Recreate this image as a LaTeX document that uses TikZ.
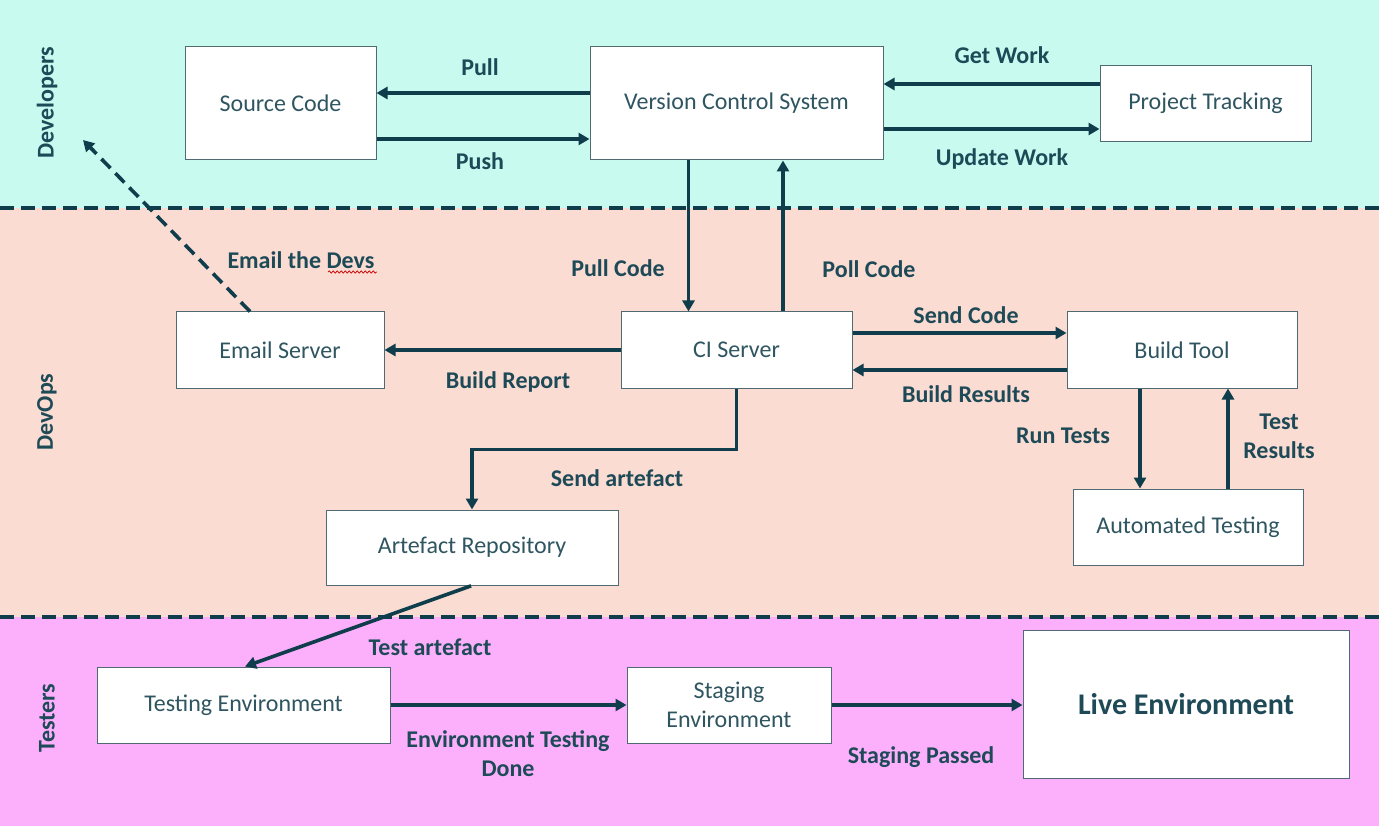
\documentclass[tikz,border=0pt]{standalone}
\usepackage{fontspec}
\setmainfont{Carlito}
\usetikzlibrary{arrows.meta,decorations.pathmorphing}
\definecolor{devbg}{HTML}{C8FAF0}
\definecolor{opsbg}{HTML}{FADCD2}
\definecolor{testbg}{HTML}{FCB0FC}
\definecolor{ink}{HTML}{0F3D4C}
\definecolor{lbl}{HTML}{1E4A58}
\definecolor{boxtxt}{HTML}{2F5560}
\definecolor{boxline}{HTML}{4F6A72}
\tikzset{
  box/.style={draw=boxline, line width=1pt, fill=white, inner sep=0pt, align=center,
    text=boxtxt, font=\fontsize{24}{29}\selectfont},
  arr/.style={draw=ink, line width=3.6pt, -{Triangle[length=11pt,width=12pt]}},
  dasharr/.style={arr, dash pattern=on 13pt off 7pt},
  lab/.style={text=lbl, font=\bfseries\fontsize{24}{29}\selectfont, align=center, inner sep=0pt},
  lane/.style={text=lbl, font=\bfseries\fontsize{24}{29}\selectfont, rotate=90, inner sep=0pt},
  divider/.style={draw=ink, line width=4pt, dash pattern=on 14pt off 7pt}
}
\begin{document}
\begin{tikzpicture}[x=1pt,y=-1pt]
\useasboundingbox (0,0) rectangle (1379,826);
% bands
\fill[devbg] (0,0) rectangle (1379,208);
\fill[opsbg] (0,208) rectangle (1379,617);
\fill[testbg] (0,617) rectangle (1379,826);
\coordinate (d1l) at (0,208); \coordinate (d1r) at (1379,208);
\coordinate (d2l) at (0,617); \coordinate (d2r) at (1379,617);
\draw[divider] (d1l) -- (d1r);
\draw[divider] (d2l) -- (d2r);
% lane labels
\node[lane] (ldev) at (47,103) {Developers};
\node[lane] (lops) at (47,412) {DevOps};
\node[lane] (ltest) at (47,718) {Testers};
% boxes
\node[box, minimum width=191pt, minimum height=113pt] (sc) at (280.5,103.5) {Source Code};
\node[box, minimum width=293pt, minimum height=113pt] (vcs) at (736.5,103.5) {Version Control System};
\node[box, minimum width=211pt, minimum height=76pt] (pt) at (1205.5,103.5) {Project Tracking};
\node[box, minimum width=208pt, minimum height=76pt] (email) at (280,350) {Email Server};
\node[box, minimum width=231pt, minimum height=76pt] (ci) at (736.5,350) {CI Server};
\node[box, minimum width=230pt, minimum height=76pt] (bt) at (1182,350) {Build Tool};
\node[box, minimum width=230pt, minimum height=76pt] (at) at (1188,527) {Automated Testing};
\node[box, minimum width=292pt, minimum height=75pt] (ar) at (472,547.5) {Artefact Repository};
\node[box, minimum width=293pt, minimum height=76pt] (te) at (243.5,705) {Testing Environment};
\node[box, minimum width=204pt, minimum height=76pt] (se) at (729,705) {Staging\\Environment};
\node[box, minimum width=326pt, minimum height=148pt, font=\bfseries\fontsize{30}{36}\selectfont, text=lbl] (le) at (1186,704) {Live Environment};
% connectors
\draw[arr] ([yshift=10.5pt]vcs.west) -- ([yshift=10.5pt]sc.east);
\draw[arr] ([yshift=-35.5pt]sc.east) -- ([yshift=-35.5pt]vcs.west);
\draw[arr] ([yshift=19.5pt]pt.west) -- ([yshift=19.5pt]vcs.east);
\draw[arr] ([yshift=-25.5pt]vcs.east) -- ([yshift=-25.5pt]pt.west);
\draw[arr] ([xshift=-48pt]vcs.south) -- ([xshift=-48pt]ci.north);
\draw[arr] ([xshift=46.5pt]ci.north) -- ([xshift=46.5pt]vcs.south);
\coordinate (devs) at (83,140);
\draw[dasharr] ([xshift=-30pt]email.north) -- (devs);
\draw[arr] (ci.west) -- (email.east);
\draw[arr] ([yshift=17pt]ci.east) -- ([yshift=17pt]bt.west);
\draw[arr] ([yshift=-20pt]bt.west) -- ([yshift=-20pt]ci.east);
\coordinate (rt) at ([xshift=-42pt]bt.south);
\coordinate (tr) at ([xshift=46pt]bt.south);
\draw[arr] (rt) -- (rt |- at.north);
\draw[arr] (tr |- at.north) -- (tr);
\draw[arr] (ci.south) -- ++(0,61) -| (ar.north);
\draw[arr, shorten <=1pt] (ar.south) -- ([xshift=1.5pt]te.north);
\draw[arr] (te.east) -- (se.west);
\draw[arr] (se.east) -- (le.west |- se.east);
% labels
\node[lab] (lpull) at (480,67) {Pull};
\node[lab] (lpush) at (480,161) {Push};
\node[lab] (lget) at (1002,55) {Get Work};
\node[lab] (lupd) at (1002,159) {Update Work};
\node[lab] (lpullc) at (618,268) {Pull Code};
\node[lab] (lpollc) at (869,269) {Poll Code};
\node[lab] (lemail) at (301,260) {Email the Devs};
\node[lab] (lrep) at (508,382) {Build Report};
\node[lab] (lsend) at (966,315) {Send Code};
\node[lab] (lres) at (966,394) {Build Results};
\node[lab] (lrun) at (1063,436) {Run Tests};
\node[lab] (ltres) at (1279,436) {Test\\Results};
\node[lab] (lsart) at (617,478) {Send artefact};
\node[lab] (ltart) at (430,647) {Test artefact};
\node[lab] (letd) at (508,754) {Environment Testing\\Done};
\node[lab] (lsp) at (921,757) {Staging Passed};
% spell-check squiggle
\coordinate (sq1) at (328,272); \coordinate (sq2) at (377,272);
\draw[red!80!black, line width=0.7pt, decorate, decoration={snake, amplitude=1.2pt, segment length=4pt}] (sq1) -- (sq2);
\end{tikzpicture}
\end{document}
